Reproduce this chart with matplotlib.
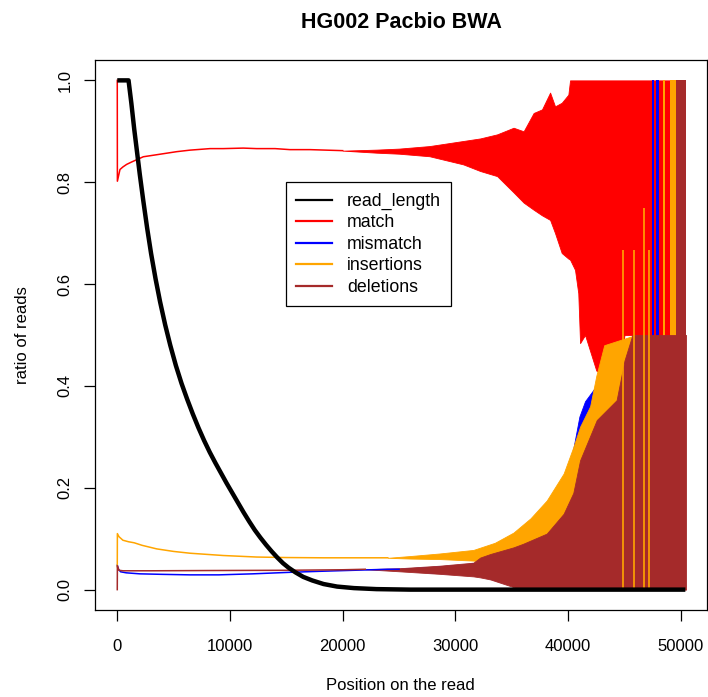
import numpy as np
import matplotlib.pyplot as plt
from matplotlib.lines import Line2D

# ---------------- data ----------------
# fraction of reads that are at least this long
rl_pos = [0, 1000, 1250, 1500, 1750, 2000, 2300, 2650, 3000, 3400, 3800, 4250,
          4700, 5200, 5700, 6200, 6700, 7200, 7700, 8200, 8700, 9200, 9700,
          10200, 10700, 11200, 11700, 12200, 12700, 13200, 13700, 14200, 14700,
          15200, 15800, 16500, 17300, 18300, 19500, 21000, 23000, 26000, 50400]
rl_val = [1.0, 1.0, 0.955, 0.905, 0.86, 0.815, 0.765, 0.71, 0.66, 0.61, 0.565,
          0.52, 0.48, 0.44, 0.405, 0.374, 0.345, 0.318, 0.293, 0.27, 0.249,
          0.229, 0.209, 0.19, 0.171, 0.152, 0.134, 0.117, 0.102, 0.088, 0.075,
          0.063, 0.052, 0.043, 0.034, 0.025, 0.018, 0.011, 0.006, 0.003, 0.001,
          0.0, 0.0]

# match: smooth part, then the noisy band (low / high envelope)
match_pos = [0, 10, 240, 500, 830, 1300, 2310, 3500, 5270, 6450, 8230, 9400,
             11180, 12370, 14000, 15320, 17100, 20000]
match_val = [1.0, 0.802, 0.825, 0.830, 0.835, 0.840, 0.850, 0.854, 0.860, 0.863,
             0.866, 0.866, 0.867, 0.866, 0.866, 0.864, 0.864, 0.862]
match_env_pos = [20000, 23000, 25000, 27700, 30700, 32200, 33700, 35160, 36050,
                 36940, 37680, 38400, 38840, 39430, 40020, 40170, 40610, 40900,
                 41060, 41500, 42500, 43500, 44300, 45000, 49000]
match_hi = [0.862, 0.864, 0.866, 0.871, 0.881, 0.886, 0.894, 0.907, 0.900,
            0.936, 0.943, 0.976, 0.949, 0.956, 0.972, 1.0, 1.0, 1.0,
            1.0, 1.0, 1.0, 1.0, 1.0, 1.0, 1.0]
match_lo = [0.862, 0.858, 0.856, 0.851, 0.835, 0.822, 0.812, 0.780, 0.760,
            0.746, 0.735, 0.726, 0.700, 0.661, 0.650, 0.648, 0.628, 0.582,
            0.484, 0.500, 0.430, 0.420, 0.400, 0.500, 0.500]

# mismatch
mism_pos = [0, 100, 300, 800, 2000, 4000, 6450, 9000, 12000, 15320, 18000,
            21000, 24000, 25000]
mism_val = [0.048, 0.040, 0.035, 0.033, 0.031, 0.030, 0.029, 0.029, 0.031,
            0.034, 0.036, 0.038, 0.040, 0.040]
mism_env_pos = [25000, 28000, 31000, 32200, 34000, 35150, 36600, 38100, 39600,
                40400, 41000, 41500, 42000, 42500, 44000, 45000]
mism_hi = [0.041, 0.045, 0.050, 0.055, 0.065, 0.075, 0.100, 0.130, 0.200,
           0.270, 0.340, 0.370, 0.385, 0.400, 0.420, 0.450]
mism_lo = [0.039, 0.033, 0.030, 0.028, 0.015, 0.008, 0.0, 0.0, 0.0,
           0.0, 0.0, 0.0, 0.0, 0.0, 0.0, 0.0]
mism_tail_start = [47440, 47800, 49690]
mism_tail_end = [47660, 48030, 49750]
mism_tail_val = [1.0, 1.0, 1.0]

# insertions
ins_pos = [0, 10, 150, 500, 1000, 1500, 2200, 3500, 5000, 6450, 9400, 12370,
           15000, 18280, 21000, 24000]
ins_val = [0.045, 0.110, 0.104, 0.097, 0.094, 0.092, 0.087, 0.080, 0.075,
           0.0715, 0.067, 0.064, 0.063, 0.0625, 0.0625, 0.0625]
ins_env_pos = [24000, 26000, 28600, 31600, 33500, 35150, 36660, 38100, 39600,
               40460, 41060, 41950, 42500, 43200, 46000]
ins_hi = [0.0625, 0.066, 0.071, 0.078, 0.092, 0.112, 0.140, 0.175, 0.228,
          0.280, 0.320, 0.360, 0.420, 0.480, 0.500]
ins_lo = [0.0625, 0.061, 0.060, 0.057, 0.050, 0.040, 0.025, 0.010, 0.0,
          0.0, 0.0, 0.0, 0.0, 0.0, 0.0]
ins_spike_pos = [44860, 45830, 46770, 47150]
ins_spike_val = [0.667, 0.667, 0.75, 0.667]
ins_tail_start = [48450, 49040]
ins_tail_end = [48570, 49550]
ins_tail_val = [1.0, 1.0]

# deletions
del_pos = [0, 10, 150, 500, 3000, 8000, 15000, 20000, 22000]
del_val = [0.0, 0.047, 0.038, 0.037, 0.037, 0.0375, 0.038, 0.039, 0.040]
del_env_pos = [22000, 25000, 28600, 31600, 32200, 33100, 35150, 36000, 38100,
               39600, 40460, 41060, 42540, 44300, 45000, 45700, 50460]
del_hi = [0.040, 0.042, 0.047, 0.053, 0.063, 0.070, 0.083, 0.090, 0.110,
          0.149, 0.190, 0.254, 0.333, 0.372, 0.450, 0.500, 0.500]
del_lo = [0.040, 0.036, 0.031, 0.026, 0.024, 0.020, 0.005, 0.0, 0.0,
          0.0, 0.0, 0.0, 0.0, 0.0, 0.0, 0.0, 0.0]
del_tail_start = [49550]
del_tail_end = [50460]
del_tail_val = [1.0]

labels = ['read_length', 'match', 'mismatch', 'insertions', 'deletions']
colors = ['black', '#FF0000', '#0000FF', '#FFA500', '#A52A2A']


def draw_series(ax, pos, val, env_pos, lo, hi, color):
    ax.plot(pos, val, color=color, lw=1.1, solid_joinstyle='round')
    ax.fill_between(env_pos, lo, hi, color=color, lw=0.6, edgecolor=color)


def draw_stripes(ax, start, end, val, color):
    for s, e, v in zip(start, end, val):
        ax.fill_between([s, e], [0, 0], [v, v], color=color, lw=0)


def main():
    plt.rcParams['font.family'] = ['Liberation Sans', 'DejaVu Sans']

    fig = plt.figure(figsize=(7.08, 6.97), dpi=100)
    ax = fig.add_axes([94.5 / 708, 1 - 610 / 697, 612.5 / 708, 550 / 697])

    c_rl, c_m, c_mm, c_ins, c_del = colors

    # match
    draw_series(ax, match_pos, match_val, match_env_pos, match_lo, match_hi, c_m)
    # mismatch
    draw_series(ax, mism_pos, mism_val, mism_env_pos, mism_lo, mism_hi, c_mm)
    draw_stripes(ax, mism_tail_start, mism_tail_end, mism_tail_val, c_mm)
    # insertions
    draw_series(ax, ins_pos, ins_val, ins_env_pos, ins_lo, ins_hi, c_ins)
    ax.vlines(ins_spike_pos, 0, ins_spike_val, color=c_ins, lw=1.2)
    draw_stripes(ax, ins_tail_start, ins_tail_end, ins_tail_val, c_ins)
    # deletions
    draw_series(ax, del_pos, del_val, del_env_pos, del_lo, del_hi, c_del)
    draw_stripes(ax, del_tail_start, del_tail_end, del_tail_val, c_del)
    # read length on top
    ax.plot(rl_pos, rl_val, color=c_rl, lw=3.2, solid_capstyle='butt',
            solid_joinstyle='round')

    ax.set_xlim(-2020, 52320)
    ax.set_ylim(-0.04, 1.04)
    ax.set_xticks(np.arange(0, 50001, 10000))
    ax.set_yticks(np.arange(0, 1.01, 0.2))
    ax.set_yticklabels(['%.1f' % v for v in np.arange(0, 1.01, 0.2)],
                       rotation=90, va='center')
    ax.tick_params(axis='both', direction='out', length=8, width=0.9,
                   labelsize=12)
    ax.tick_params(axis='x', pad=13)
    ax.tick_params(axis='y', pad=8)
    for sp in ax.spines.values():
        sp.set_linewidth(0.9)

    ax.set_xlabel('Position on the read', fontsize=12)
    ax.xaxis.set_label_coords(0.5, -0.138)
    ax.xaxis.label.set_va('center')
    ax.set_ylabel('ratio of reads', fontsize=12)
    ax.yaxis.set_label_coords(-0.118, 0.5)
    ax.yaxis.label.set_va('center')

    fig.text(401 / 708, 1 - 22 / 697, 'HG002 Pacbio BWA', ha='center',
             va='center', fontsize=15.5, fontweight='bold')

    handles = [Line2D([], [], color=c, lw=1.6) for c in colors]
    leg = ax.legend(handles, labels, loc='upper left',
                    bbox_to_anchor=(0.312, 0.778), borderaxespad=0,
                    fontsize=12.8, frameon=True, fancybox=False,
                    handlelength=2.0, handletextpad=0.84, labelspacing=0.25,
                    borderpad=0.6)
    leg.get_frame().set_edgecolor('black')
    leg.get_frame().set_linewidth(0.9)
    leg.get_frame().set_alpha(1)

    fig.savefig('out.png', dpi=100)
    plt.close(fig)


if __name__ == "__main__":
    main()
